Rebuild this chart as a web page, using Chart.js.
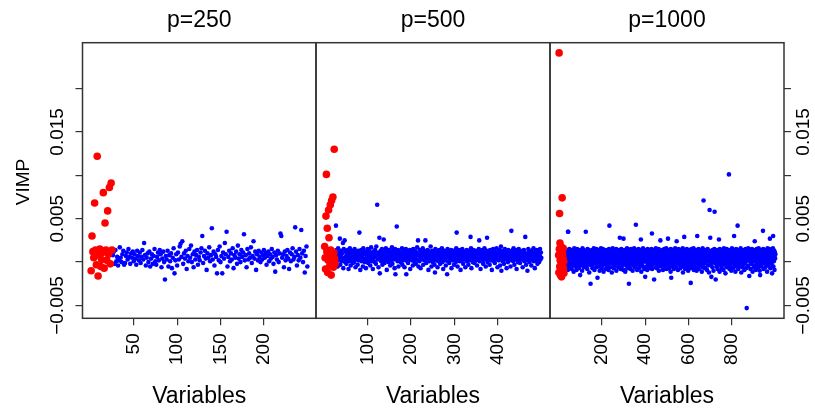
<!DOCTYPE html>
<html><head><meta charset="utf-8">
<script src="https://cdn.jsdelivr.net/npm/chart.js@4"></script>
<style>
html,body{margin:0;padding:0;background:#fff;}
#wrap{position:relative;width:815px;height:409px;}
#wrap canvas{position:absolute;left:0;top:0;}
</style>
</head><body>
<div id="wrap">
<canvas id="c1" width="815" height="409"></canvas>
<canvas id="c2" width="815" height="409"></canvas>
<canvas id="c3" width="815" height="409"></canvas>
</div>
<script>
// ---- data (VIMP values in units of 1e-4, variable index = position + 1) ----
const panelTitles = ['p=250', 'p=500', 'p=1000'];
const xAxisTitle = 'Variables';
const yAxisTitle = 'VIMP';
const signalCount = 25;   // first variables drawn in red
const vimpUnit = 1e-4;

const vimp250 = [
-10,30,12,5,68,14,-3,122,-16,8,15,-5,3,11,80,-7,45,14,2,59,9,86,-2,91,14,
8,12,-2,14,1,6,-4,2,17,5,0,9,13,-3,-1,7,11,3,15,6,-2,10,5,12,1,
9,4,-3,13,7,2,11,-1,6,14,3,22,8,-4,5,10,0,12,-5,4,9,-2,7,15,1,
-3,6,11,2,14,9,-6,4,12,0,-20,7,3,13,-5,8,1,10,-7,5,16,-13,2,9,-4,
11,3,18,21,6,24,-2,10,4,13,-8,7,1,15,5,19,0,9,-6,12,3,8,14,-3,6,
2,11,16,30,-1,7,13,4,-9,10,5,17,1,8,39,3,12,-4,9,6,-13,14,2,18,0,
7,-13,11,4,22,9,35,-5,6,13,1,10,3,16,-7,8,5,12,-2,19,4,9,0,14,6,
11,32,2,8,-6,15,3,10,5,17,-1,7,24,4,12,-9,9,2,13,6,0,11,3,8,14,
5,10,-3,7,12,1,9,4,15,6,-2,11,-11,8,3,13,0,10,33,30,5,9,-6,12,2,
7,14,4,-8,11,1,9,16,3,6,40,12,-4,8,2,15,5,37,10,0,13,-12,7,18,-5
];

const vimp500 = [
18,5,-8,53,101,12,39,-12,2,60,28,9,-4,66,14,-15,71,7,1,75,-6,11,130,4,-2,
9,42,14,3,7,-5,16,2,11,6,27,-3,8,13,1,10,4,22,-7,15,5,25,0,12,6,
-2,9,3,14,7,-8,11,1,16,5,-4,10,2,13,8,-1,6,12,0,15,4,-6,9,3,11,
7,-3,13,2,10,34,5,-9,8,14,1,6,11,-5,16,3,9,0,12,4,-7,10,7,2,15,
-1,8,13,4,11,-4,6,17,1,9,3,-8,12,5,10,0,14,7,-2,18,6,66,3,11,-6,
9,28,-13,5,13,1,8,15,-3,10,4,26,7,-1,12,2,16,6,-9,11,3,9,0,14,5,
8,-4,12,2,10,17,-2,6,13,3,9,-7,15,-14,4,11,41,7,1,14,-5,8,3,12,6,
0,10,5,16,-3,9,2,13,7,-6,11,4,15,-14,8,1,12,-1,6,10,3,14,-8,9,5,
12,2,7,-4,15,4,10,0,13,6,-2,11,3,17,8,25,-5,9,1,14,5,-7,12,6,10,
3,16,-3,8,13,2,9,25,5,-1,11,4,14,7,-9,10,1,12,6,18,3,-5,9,13,0,
7,11,4,-3,-12,15,2,9,6,13,-6,10,1,8,14,3,-2,12,5,9,16,0,7,-8,11,
4,13,2,8,-4,10,6,-14,15,1,9,12,-1,5,11,3,14,-7,7,10,2,13,6,-3,9,
4,12,0,16,34,8,-5,11,3,14,6,1,10,-9,13,7,2,15,5,-2,9,12,3,8,-6,
11,4,14,1,9,6,-3,13,2,10,7,29,16,-7,5,12,0,8,14,3,-1,11,6,9,2,
13,-4,7,10,4,15,25,1,9,-8,12,5,8,14,2,-2,11,6,16,3,10,-5,7,13,28,
0,9,4,12,6,-3,14,2,10,8,-9,11,5,15,1,7,13,-1,4,10,6,16,3,-6,9,
12,2,8,14,-4,5,18,-10,11,7,1,13,4,-2,9,15,6,10,3,-7,12,8,0,14,5,
9,2,11,-5,7,36,13,4,10,1,16,6,-3,12,3,8,14,-8,5,11,0,9,15,2,7,
-1,12,4,10,6,13,-6,3,8,14,1,11,29,5,-3,9,2,-10,7,15,4,12,0,10,6,
13,-4,8,3,11,5,16,1,9,-7,12,7,2,14,6,-2,10,4,13,0,8,15,3,11,5
];

const vimp1000 = [
8,-12,241,15,56,-5,22,2,-15,11,-8,18,0,-17,6,13,74,-3,9,-10,4,16,-7,1,-13,
5,-3,9,1,12,-7,4,14,-1,7,2,10,-5,6,13,0,8,-9,35,35,3,11,-2,6,15,
1,9,-6,4,12,7,-2,10,3,14,-8,5,11,0,8,-4,13,2,6,-11,9,4,16,-1,7,
3,11,-5,8,1,13,6,-9,10,2,15,-3,7,4,12,-1,9,5,-7,14,0,8,3,11,-15,
6,2,13,-4,9,0,12,5,-10,7,16,1,10,-2,4,14,8,-6,11,3,6,-1,13,9,2,
35,-5,7,12,1,10,4,-8,15,6,0,11,-3,8,14,2,-12,9,5,13,-1,7,-25,3,10,
-4,12,6,1,9,14,-7,3,11,5,-2,8,16,0,10,-9,4,13,7,-1,2,11,6,-6,15,
8,3,-3,10,-18,5,12,0,9,14,-5,7,2,11,-10,6,13,4,-1,9,16,1,8,-7,12,
3,10,-4,6,15,1,9,-11,13,5,0,8,12,-2,4,11,7,-8,14,2,9,6,-5,10,1,
13,-3,7,4,11,-9,2,15,8,42,0,12,5,-6,10,3,14,-1,9,6,-12,11,1,8,16,
-2,7,13,4,-7,10,1,14,6,-4,9,3,12,0,8,15,-10,5,11,2,-1,13,7,4,10,
-6,9,3,14,1,11,-3,28,6,12,-8,4,10,0,15,7,-5,2,13,9,-1,5,11,-9,27,
4,12,-2,8,1,14,6,-11,10,3,13,-4,7,0,9,16,2,-7,11,5,8,-1,12,3,-25,
10,6,-5,13,2,9,-8,4,15,1,11,-2,7,12,0,8,-10,14,3,10,5,-4,9,16,1,
7,-6,12,3,10,0,43,8,-3,14,5,11,-9,2,9,13,-1,6,15,4,-7,10,1,12,7,
-4,9,14,2,26,6,-11,11,4,13,-2,8,0,10,16,3,-6,12,7,1,9,-8,14,5,-17,
11,2,8,-5,13,6,0,10,-9,4,15,1,12,-3,7,9,14,-1,5,11,-7,3,13,8,0,
10,-4,6,15,2,33,-8,9,12,4,-2,11,7,0,14,-20,5,13,1,8,-6,10,3,16,-1,
6,12,2,-7,9,14,4,-3,11,0,8,15,-10,5,10,1,13,-1,7,25,3,-5,12,9,6,
-2,11,4,14,0,8,-9,12,6,2,10,-4,15,7,1,13,-6,9,3,11,-1,16,5,-8,10,
4,13,0,8,27,-3,11,6,14,-7,2,9,12,-1,5,10,-11,15,3,-18,7,12,-5,1,9,
14,6,-2,11,3,8,-8,13,0,10,5,-4,16,2,9,12,-6,7,4,24,11,-1,1,13,6,
-9,10,4,15,1,8,-3,12,6,0,14,-7,9,3,11,-1,7,13,2,-5,10,5,16,-12,8,
2,12,-4,9,29,6,14,0,-8,11,4,13,-2,7,10,1,15,-6,5,9,3,12,-10,8,0,
11,-3,6,14,2,9,-7,13,4,-24,10,1,8,15,-1,5,12,-5,7,3,11,0,16,-9,9,
4,13,-2,8,1,10,6,-6,14,3,12,-10,7,0,30,9,5,-3,11,2,15,-8,6,12,1,
9,-4,14,3,10,-1,7,13,0,8,-11,5,12,2,16,-6,9,4,71,11,-2,6,13,1,8,
-7,10,3,14,5,-1,12,0,8,-9,11,6,15,2,-4,9,13,4,-12,7,10,60,1,12,28,
5,-3,11,8,-17,13,2,9,6,-6,14,0,10,4,-10,12,7,1,15,58,-1,8,3,11,-20,
9,2,13,-5,6,10,0,14,-8,4,12,7,-2,11,26,3,8,-11,15,1,9,5,-4,13,6,
0,11,-7,8,14,3,10,-1,6,12,-9,5,16,2,9,-3,13,7,1,-13,10,4,12,-5,8,
15,2,-6,11,6,9,-2,13,4,0,101,7,12,-8,3,10,14,-4,5,8,1,-10,11,6,16,
-1,9,3,12,-7,7,14,0,10,30,5,-3,13,2,8,-11,11,6,15,1,-5,9,4,12,-2,
42,7,13,-8,5,10,1,14,-4,8,3,11,-1,6,16,0,9,-12,12,4,7,-6,13,2,10,
5,-3,11,8,0,14,-9,6,12,3,-1,9,15,1,-7,10,4,-53,13,7,-5,11,2,8,16,
-4,10,6,12,-16,3,9,14,1,-8,11,5,0,13,7,-2,15,4,10,-11,8,2,12,6,-6,
9,14,1,7,24,-4,11,3,13,-9,6,10,0,15,5,-1,12,8,-7,2,11,4,16,-3,9,
6,12,-10,3,-15,10,1,14,8,-5,11,4,13,-2,7,0,9,36,15,2,-8,10,5,12,-1,
8,3,13,-6,10,6,1,14,-3,9,12,-11,5,16,0,11,7,-4,13,2,9,-1,15,4,27,
11,-7,6,12,2,9,14,-2,5,-13,10,3,8,16,30,-5,12,1,7,13,-9,6,11,4,9
];

const xTicks250 = [50, 100, 150, 200];
const xTicks500 = [100, 200, 300, 400];
const xTicks1000 = [200, 400, 600, 800];
const yTicks = [-0.005, 0, 0.005, 0.01, 0.015, 0.02];
const yTickLabels = ['\u22120.005', '', '0.005', '', '0.015', ''];

// ---- layout / style ----
const W = 815, H = 409;
const FONT = '"Liberation Sans", Arial, Helvetica, sans-serif';
const INK = '#333333';
const panelBoxes = [
  {left: 82.5, right: 316, top: 42.7, bottom: 318.3},
  {left: 316, right: 550, top: 42.7, bottom: 318.3},
  {left: 550, right: 784, top: 42.7, bottom: 318.3}
];

const allVals = vimp250.concat(vimp500, vimp1000).map(v => v * vimpUnit);
const dMin = Math.min(...allVals), dMax = Math.max(...allVals);
const yMin = dMin - 0.04 * (dMax - dMin), yMax = dMax + 0.04 * (dMax - dMin);

function makePanel(id, values, xTicks, title, ySide, box) {
  const n = values.length;
  const xExt = 0.04 * (n - 1);
  const red = [], blue = [];
  values.forEach((v, i) => (i < signalCount ? red : blue).push({x: i + 1, y: v * vimpUnit}));

  const textPlugin = {
    id: 'panelText',
    afterDraw(chart) {
      const ctx = chart.ctx, a = chart.chartArea;
      ctx.save();
      ctx.strokeStyle = INK; ctx.lineWidth = 1.5;
      ctx.strokeRect(a.left, a.top, a.right - a.left, a.bottom - a.top);
      ctx.fillStyle = '#000';
      ctx.textAlign = 'center'; ctx.textBaseline = 'alphabetic';
      ctx.font = '23px ' + FONT;
      const cx = (a.left + a.right) / 2;
      ctx.fillText(title, cx, 27);
      ctx.fillText(xAxisTitle, cx, 403);
      if (ySide) {
        const ys = chart.scales.y;
        const bx = ySide === 'left' ? 62.6 : 809;
        ctx.font = '19px ' + FONT;
        yTicks.forEach((t, k) => {
          if (!yTickLabels[k]) return;
          ctx.save();
          ctx.translate(bx, ys.getPixelForValue(t));
          ctx.rotate(-Math.PI / 2);
          ctx.fillText(yTickLabels[k], 0, 0);
          ctx.restore();
        });
        if (ySide === 'left') {
          ctx.save();
          ctx.translate(28.8, (a.top + a.bottom) / 2 + 1.5);
          ctx.rotate(-Math.PI / 2);
          ctx.fillText(yAxisTitle, 0, 0);
          ctx.restore();
        }
      }
      ctx.restore();
    }
  };

  const gridOpts = {drawOnChartArea: false, drawTicks: true, tickLength: 7, color: INK, lineWidth: 1.2};
  const xAxisHeight = H - box.bottom;
  new Chart(document.getElementById(id), {
    type: 'scatter',
    data: {datasets: [
      {data: red, backgroundColor: '#ff0000', borderWidth: 0, pointRadius: 3.8, pointHoverRadius: 3.8, order: 0},
      {data: blue, backgroundColor: '#0000ff', borderWidth: 0, pointRadius: 2.3, pointHoverRadius: 2.3, order: 1}
    ]},
    options: {
      responsive: false, animation: false, events: [],
      layout: {padding: {left: box.left, right: W - box.right, top: box.top, bottom: 0}},
      plugins: {legend: {display: false}, tooltip: {enabled: false}, title: {display: false}},
      scales: {
        x: {
          type: 'linear', position: 'bottom', min: 1 - xExt, max: n + xExt,
          afterFit: s => { s.height = xAxisHeight; },
          afterBuildTicks: s => { s.ticks = xTicks.map(v => ({value: v})); },
          grid: gridOpts, border: {display: false},
          ticks: {autoSkip: false, minRotation: 90, maxRotation: 90, padding: 8, color: '#000',
                  font: {family: FONT, size: 19}}
        },
        y: {
          type: 'linear', display: !!ySide, position: ySide || 'left', min: yMin, max: yMax,
          afterFit: s => { s.width = 0; },
          afterBuildTicks: s => { s.ticks = yTicks.map(v => ({value: v})); },
          grid: gridOpts, border: {display: false},
          ticks: {display: false}
        }
      }
    },
    plugins: [textPlugin]
  });
}

makePanel('c1', vimp250, xTicks250, panelTitles[0], 'left', panelBoxes[0]);
makePanel('c2', vimp500, xTicks500, panelTitles[1], null, panelBoxes[1]);
makePanel('c3', vimp1000, xTicks1000, panelTitles[2], 'right', panelBoxes[2]);
</script>
</body></html>
